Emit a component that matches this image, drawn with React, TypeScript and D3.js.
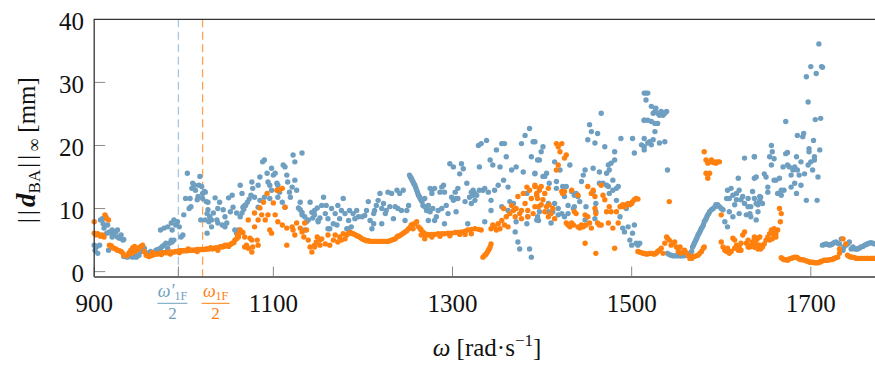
import React from "react";
import * as d3 from "d3";

// ---------- data (omega [rad/s], ||d_BA||_inf [mm]) ----------
const xTicks = [900, 1100, 1300, 1500, 1700];
const yTicks = [0, 10, 20, 30, 40];
const markerBlue = 994; // omega'_1F / 2
const markerOrange = 1021; // omega_1F / 2

const blueA: [number, number][] = [
  [900,4.2],[901,3.4],[903,4],[904,2.9],[906,4.2],[907,8.2],[909,8.4],[910,7.6],[911,6.9],[913,8.7],[915,7.4],[914,6.1],[916,3.4],[917,6.3],[919,6.1],[920,5.5],[922,5.8],[924,6.3],[926,5.5],[928,5.3],[930,5.8],[932,5],[933,5.1],[926,6.6],[920,6.6],
  [933,2.4],[935,2.4],[937,2.3],[939,2.5],[941,2.4],[943,2.3],[945,2.5],[947,2.3],[948,2.5],[950,2.6],[952,3.2],[954,3.4],[956,3.2],[958,2.9],[960,2.8],[961,3],[963,3.2],[965,2.8],[967,3],[969,3.4],[971,3.5],[973,3.3],[974,3.7],[976,4],[978,4.2],[980,4.5],[982,3.7],[984,4.5],[986,5],[987,4.7],[989,5],[956,3.7],[941,2.8],[945,2.8],
  [974,6.6],[978,6.9],[982,7.1],[986,7.7],[987,6.6],[989,8.2],[991,7.4],[993,7.9],[995,7.1],[997,5.5],[999,5.8],[1000,9],[1002,11.6],[1004,15.6],[1006,10],[1008,10.3],[1007,11.6],[1009,13.2],[1010,14],[1012,13.7],[1013,12.9],[1015,11.4],[1016,11.9],[1018,15.1],[1020,13.5],[1021,11.6],[1019,8.2],[1023,12.7],[1025,11.1],[1026,9.2],[1028,7.9],[1021,12.4],[1017,13.7]
];
const blueB: [number, number][] = [
  [1024,12.6],[1027,11],[1029,8.7],[1031,7.1],[1033,9.3],[1035,11.7],[1037,8.2],[1038,10],[1040,11],[1043,7.4],[1044,9.8],[1046,8.7],[1048,7.7],[1050,11.7],[1052,9.5],[1054,12.1],[1055,10.2],[1059,9.3],[1061,6.6],[1063,13.7],[1065,12.4],[1066,10.2],[1068,10.5],
  [1063,8.7],[1065,9.3],[1067,9.9],[1069,10.5],[1071,11],[1073,11.5],[1075,12.1],
  [1076,14.2],[1077,13.2],[1079,11.8],[1083,13.7],[1085,15],[1088,17.4],[1090,17.7],[1093,15.6],[1094,14.2],[1096,13.7],[1098,16.4],[1100,15.3],[1102,15.6],[1104,14],[1105,13.7],[1107,12.6],[1111,16.9],[1113,16.6],[1115,15.3],[1116,14.2],[1118,12.6],[1122,18.5],[1124,17.4],[1124,14.5],[1126,12.9],[1130,11],[1130,9.8],[1132,18.8],[1132,9],[1135,6.6],[1137,7.9],[1141,11],[1143,9.4],[1144,8.5],[1149,10.1],[1150,7.9],
  [1027,9.8],[1024,8.2],[1026,6.1],[1031,8.2],[1038,7.7],[1046,7.1],[1057,6.6],[1059,6.1],[1083,10.2],[1085,11.3],[1090,11.8],[1096,11.6],[1098,12.9],[1105,11.8],[1110,11],[1113,10.2],[1119,11.8],[1121,13.4],[1128,10.1],[1132,9.4],[1135,8.7],[1139,8.2],[1146,9],[1152,8.5]
];
const blueC: [number, number][] = [
  [1146,9.7],[1150,8.1],[1154,10.5],[1156,11.8],[1158,9.2],[1159,10.5],[1161,8.4],[1163,6.8],[1165,10],[1167,7.6],[1169,9.2],[1171,7.4],[1172,10.5],[1174,8.4],[1176,9.7],[1178,11.6],[1180,9.2],[1182,6.8],[1184,8.1],[1185,9.7],[1187,7.1],[1189,9.2],[1191,8.4],[1193,9.7],[1195,8.7],[1199,8.7],[1202,8.9],[1204,9.7],[1206,11.1],[1208,8.1],[1210,6.8],[1212,9.2],[1213,9.7],[1215,10.5],[1217,11.3],[1219,12.4],[1221,7.6],[1221,10],[1223,10.8],[1225,9.2],[1226,9.7],[1228,12.6],[1230,10.3],[1232,12.4],[1234,8.4],[1236,10.3],[1238,12.9],[1239,10],[1241,12.4],[1243,9.7],[1245,12.9],[1247,8.1],[1249,9.7],[1251,10.5],[1161,6.8],[1184,6.8],[1212,7.6],
  [1252,15.3],[1253,15],[1254,14.8],[1255,14.5],[1256,14.2],[1257,13.9],[1258,13.7],[1259,13.3],[1260,12.9],[1261,12.5],[1262,12.1],[1263,11.9],[1264,11.6],[1265,11.3],[1266,11.1],[1267,10.5],[1269,10.3],[1271,10],[1273,9.7],[1275,13.2]
];
const blueD: [number, number][] = [
  [1269,11.6],[1271,9.7],[1273,10.5],[1275,9.5],[1277,12.9],[1278,10],[1280,13.2],[1282,8.7],[1284,9.7],[1286,12.6],[1288,10],[1290,13.7],[1291,12.6],[1293,10.5],[1295,9.2],[1297,17.1],[1299,11.8],[1301,16.6],[1303,12.6],[1304,9.5],[1306,11.6],[1308,15.5],[1310,17.1],[1312,16.3],[1314,11.1],[1316,14],[1317,7.6],[1319,11.8],[1321,12.6],[1323,12.1],[1325,12.4],[1327,12.1],[1329,20],[1330,16.6],[1332,20.3],[1334,12.9],[1336,13.2],[1338,20.8],[1340,12.6],[1342,17.7],[1343,11.3],[1345,16.9],[1347,12.9],[1349,19.3],[1351,13.7],[1353,16.6],[1355,20.3],[1357,14.5],[1358,20.3],[1360,18.2],[1362,13.4],[1364,11.1],[1366,16.1],[1368,10.8],[1370,6.3],[1371,16.6],[1373,4.7],[1375,3.6],[1377,20.3],[1379,15.8],[1381,21.6],[1383,12.4],[1384,8.7],[1386,22.7],[1388,18.2],[1390,20.6],[1388,2.3],[1386,3.6],[1392,15.5],[1396,8.1],[1397,17.7],
  [1273,8.1],[1280,8.1],[1291,7.6],[1304,11.6],[1321,10.8],[1336,7.9],[1343,9.7],[1355,10.3],[1362,9.7],[1371,7.9],[1383,7.6],[1277,12.4],[1288,13.4],[1301,11.3],[1306,13.2],[1323,12.9],[1325,11.3],[1330,12.9]
];
const blueE: [number, number][] = [
  [1392,20.6],[1392,15.6],[1394,8.2],[1395,17.7],[1397,9.5],[1399,19],[1401,19.8],[1403,15.1],[1405,15.6],[1407,10.8],[1408,14],[1410,7.7],[1412,9.5],[1414,17.4],[1416,14.3],[1418,10],[1420,16.1],[1422,9.2],[1423,13.5],[1425,8.7],[1427,13.5],[1429,9.2],[1431,16.9],[1433,12.7],[1435,10],[1436,12.1],[1438,12.4],[1440,11.9],[1442,11.1],[1444,14.3],[1446,15.3],[1448,16.1],[1449,10.3],[1451,20.9],[1453,23.3],[1455,22.2],[1457,16.4],[1459,20.4],[1460,10.8],[1462,21.9],[1464,15.8],[1466,25.1],[1468,14],[1470,19.8],[1472,15.6],[1474,13.5],[1475,16.1],[1477,17.2],[1479,14.5],[1481,19],[1483,13.2],[1485,13.5],[1487,8.7],[1488,21.1],[1490,6.9],[1492,6.3],[1494,10],[1496,7.1],[1498,5],[1500,4.2],[1501,6.1],[1503,7.4],[1505,4.5],[1507,4.2],[1509,4.5],[1501,21.1],[1503,18.8],[1511,20.1],[1514,19.3],[1514,24],
  [1401,15.1],[1414,10.8],[1416,13.2],[1425,11.9],[1429,10.5],[1436,10.3],[1457,12.7],[1464,14],[1472,13.7],[1475,12.4],[1479,12.9],[1483,11.3],[1460,9.5],[1395,8.7],[1407,9.5],[1418,9],[1448,8.2],[1459,8.4],[1481,17.7],[1474,16.9]
];
const blueF: [number, number][] = [
  [1514,28.3],[1516,28.3],[1518,28.3],[1516,27.2],[1522,26.2],[1524,25.1],[1526,25.4],[1527,25.9],[1529,25.1],[1531,24.8],[1533,25.4],[1535,24.8],[1537,25.1],[1539,25.4],[1529,23.5],[1526,23.5],[1522,23.8],[1518,24],[1514,24],[1526,22.2],[1524,20.9],[1520,20.6],[1518,20.4],[1514,19.8],[1522,20.1],[1531,20.4],[1537,20.6],[1514,21.1],[1540,16.1],
  [1540,2.9],[1542,2.7],[1544,2.6],[1546,2.5],[1548,2.5],[1550,2.5],[1552,2.5],[1554,2.5],[1555,2.5],[1557,2.5],[1559,2.5],[1561,2.6],[1563,2.6],[1565,2.9],[1567,3.2],[1568,3.9],[1569,4.2],[1570,4.5],[1571,4.8],[1572,5.1],[1573,5.4],[1574,5.8],[1575,6],[1576,6.3],[1577,6.6],[1578,6.9],[1579,7.1],[1580,7.4],[1581,7.9],[1582,8.1],[1583,8.4],[1584,8.7],[1585,9],[1586,9.2],[1587,9.5],[1589,9.8],[1591,10],[1593,10.3],[1594,10.6],[1596,10.6],[1598,10.3],[1600,10],[1602,9.8],[1604,7.9],
  [1606,11.6],[1607,12.9],[1609,11.6],[1611,13.2],[1613,12.1],[1615,10.6],[1617,12.4],[1619,14.8],[1620,12.9],[1622,11.4],[1624,11.9],[1626,18],[1628,9],[1630,11.6],[1632,9.2],[1633,10.3],[1635,12.7],[1637,14.8],[1637,18.2],[1639,8.2],[1641,10.6],[1643,11.9],[1609,9.5],[1613,8.7],[1617,11.4],[1620,9.2],[1626,10.8],[1630,10.3],[1633,8.7],[1607,7.1]
];
const blueG: [number, number][] = [
  [1637,18.2],[1639,15],[1637,11.6],[1639,10.8],[1641,9.5],[1643,11.3],[1644,11.8],[1646,10.8],[1648,15.5],[1650,15],[1652,13.4],[1652,12.6],[1654,18.2],[1656,20],[1657,19],[1659,17.9],[1661,14.5],[1663,12.4],[1665,14.8],[1667,12.1],[1669,16.6],[1670,12.9],[1672,23.8],[1672,18.7],[1674,18.9],[1674,16.9],[1676,16.6],[1678,15.3],[1680,16.1],[1682,16.6],[1684,12.4],[1684,18.2],[1685,21.6],[1687,15.3],[1689,13.7],[1691,21.4],[1692,21.9],[1693,15.5],[1695,11.3],[1695,30.9],[1697,26.9],[1698,19.5],[1698,19],[1700,32.5],[1702,16.1],[1703,20.8],[1704,18.2],[1705,24.1],[1706,31.4],[1707,11.3],[1708,15],[1709,36.1],[1710,19.3],[1711,24.3],[1712,32.5],[1713,32.4],[1704,17.7],[1700,17.4],[1697,16.9],[1678,13.4],[1667,12.9],[1656,16.9],[1659,14.5],[1682,14],[1685,16.1],[1689,17.4],
  [1713,4.2],[1715,4.3],[1717,4.4],[1719,4.3],[1721,4.2],[1723,4.3],[1724,4.4],[1726,4.6],[1728,4.7],[1730,4.5],[1732,4.4],[1734,5.2],[1736,3.4],[1737,3.9],[1739,4.2],[1741,4.4],[1743,4.7],[1745,3.6],[1747,3.9],[1749,3.6],[1751,3.6],[1752,3.6],[1754,3.7],[1756,3.9],[1758,4],[1760,4.2],[1762,4.3],[1763,4.4],[1765,4.5],[1767,4.6],[1769,4.5],[1771,4.4],[1774,4.3]
];

const orangeA: [number, number][] = [
  [900,7.9],[900,6.1],[902,5.8],[904,6],[906,5.8],[907,5.6],[909,5.8],[911,5.5],[912,9],[914,8.4],[916,8.2],[917,4.2],[919,4.1],[920,3.8],[922,3.7],[924,3.6],[926,3.4],[928,3.3],[930,3.2],[932,2.9],[933,2.6],[935,2.5],[937,2.6],[939,3],[941,3.4],[943,3.8],[945,4],[942,2.9],[945,3.2],[948,3.4],[950,3.8],[952,4],[954,4.2],[956,3.2],[958,2.6],[960,2.5],[961,2.4],[963,2.5],[965,2.6],[967,2.7],[969,2.8],[971,2.8],[973,2.9],[974,2.9],[976,3],[978,3],[980,3],[982,3],[984,3.1],[986,3.1],[987,3.1],[989,3.1],[991,3.2],[993,3.2],[995,3.3],[997,3.3],[999,3.3],[1000,3.3],[1002,3.3],[1004,3.3],[1006,3.4],[1008,3.4],[1010,3.4],[1012,3.4],[1013,3.4],[1015,3.5],[1017,3.5],[1019,3.5],[1021,3.5],[1023,3.5],[1025,3.6],[1026,3.6],[1028,3.6],
  [965,3],[975,2.7],[985,2.8],[995,3],[1005,3.6],[1015,3.2],[1030,3.8],[1032,3.6],[1034,3.7]
];
const orangeB: [number, number][] = [
  [1035,3.7],[1037,3.8],[1038,3.4],[1040,3.9],[1042,4],[1043,3.9],[1045,4],[1046,4.2],[1048,4.2],[1050,4],[1052,4.3],[1054,4.5],[1056,4.6],[1057,5],[1059,5.2],[1060,5.8],[1061,5.5],[1062,6.1],[1063,6.6],[1064,6.3],[1066,6.2],
  [1068,5.5],[1070,4.2],[1072,8.2],[1074,5.3],[1076,3.1],[1077,3.9],[1079,7.1],[1079,9.3],[1082,5],[1083,4.2],[1083,8.2],[1085,10.1],[1087,9],[1089,11],[1091,8.2],[1093,12.4],[1094,9],[1096,6.6],[1098,6.1],[1100,10.9],[1102,9],[1104,12.9],[1105,12.9],[1107,13],[1110,13.2],[1105,7.9],[1110,7.4],[1113,10.2],[1115,6.9],[1115,4.2],[1121,7.1],[1122,6.6],[1124,5.8],[1126,7.7],[1130,6.9],[1132,6.3],[1134,5.5],[1135,7.7],[1137,6.6],[1139,5],[1141,3.9],[1143,3.1],[1146,4.2],[1149,5.5],[1152,5],[1076,5],[1068,3.9],[1072,3.7]
];
const orangeC: [number, number][] = [
  [1146,3.9],[1148,4.7],[1152,4.2],[1154,5.2],[1158,4.4],[1161,5.8],[1163,4.2],[1167,5],[1169,5.8],[1172,4.7],[1174,5.5],[1176,5],[1178,6],[1180,5.2],[1182,5.8],
  [1184,6.1],[1186,6.2],[1187,6.1],[1189,6],[1191,5.9],[1193,5.7],[1195,5.6],[1197,5.4],[1199,5.2],[1201,5.1],[1202,5],[1204,4.9],[1206,4.9],[1208,4.8],[1210,4.8],[1212,4.8],[1213,4.8],[1215,4.8],[1217,4.8],[1219,4.8],[1221,4.8],[1223,4.8],[1225,4.8],[1227,4.8],[1228,4.8],[1230,4.9],[1232,5],[1234,5.1],[1236,5.2],[1238,5.5],[1239,5.6],[1241,5.7],[1243,5.9],[1245,6.1],[1247,6.3],[1249,6.5],[1251,6.8],[1253,7.1],[1254,7.4],[1256,7.5],[1258,7.6],[1260,7.9],[1262,7.1],[1264,6.8],[1265,6.6],[1267,6.3],[1269,6],[1271,5.9],[1273,5.8],[1256,6.8],[1265,5.8]
];
const orangeD: [number, number][] = [
  [1269,5.8],[1273,5.9],[1277,5.9],[1280,5.9],[1284,6],[1288,6],[1291,6],[1295,6.1],[1299,6.1],[1303,6.2],[1306,6.2],[1310,6.3],[1314,6.4],[1317,6.6],[1321,6.7],[1325,6.8],[1329,6.7],[1332,6.6],[1269,5.2],[1277,5.5],[1314,5.9],[1321,6],[1286,5.6],[1297,5.7],[1308,5.9],
  [1334,2.3],[1336,2.6],[1337,2.7],[1338,2.9],[1339,3.1],[1340,3.4],[1341,3.6],[1342,3.9],[1343,4.4],
  [1345,7.4],[1343,6.8],[1347,7.1],[1349,6.6],[1351,7.6],[1353,6.8],[1355,8.1],[1357,10],[1358,7.4],[1360,8.7],[1362,7.1],[1364,9.2],[1366,10.5],[1368,9.7],[1370,8.7],[1371,10],[1373,11.9],[1375,9.2],[1377,9.7],[1379,12.4],[1381,10.8],[1383,13.4],[1384,9.7],[1386,12.9],[1388,11.6],[1390,9.2],[1392,13.7],[1394,12.4],[1396,10.3],[1397,13.2],[1392,10.3],[1384,8.7],[1377,8.4]
];
const orangeE: [number, number][] = [
  [1392,13.5],[1394,12.1],[1395,11.6],[1397,12.9],[1399,10.6],[1401,11.4],[1403,9.5],[1405,10.3],[1407,8.7],[1408,10.6],[1410,9.2],[1412,10],[1414,8.4],[1416,20.3],[1418,19.8],[1420,19],[1422,20.3],[1425,18],[1427,18.5],[1416,16.1],[1418,16.9],[1422,12.7],[1423,12.4],[1425,12.7],[1427,7.7],[1429,7.4],[1431,7.1],[1433,7.7],[1435,7.4],[1436,9.5],[1438,9.2],[1440,7.1],[1442,6.9],[1444,7.4],[1446,7.1],[1448,9],[1449,7.4],[1451,8.7],[1453,7.7],[1455,12.4],[1457,12.9],[1459,10],[1460,9.2],[1462,7.7],[1464,7.4],[1466,13.7],[1468,12.1],[1470,11.4],[1472,9.5],[1474,7.7],[1475,10.3],[1477,9.5],[1479,6.9],[1481,3.7],[1483,9.5],[1485,7.7],[1487,10.3],[1488,10.3],[1490,10.6],[1492,10.3],[1494,10.6],[1496,10.8],[1498,10.6],[1500,10.8],[1501,11.1],[1503,11.4],[1505,11.6],[1507,11.5],[1448,4.5],[1460,2.9],[1455,6.9],[1466,7.4],[1399,13.5],[1403,12.4],[1407,13.2],[1433,12.9],[1440,12.1],[1451,13.5],[1459,11.9],
  [1507,3.2],[1509,3.1],[1511,3],[1513,2.9]
];
const orangeF: [number, number][] = [
  [1514,2.9],[1516,2.8],[1518,2.8],[1520,2.9],[1522,2.9],[1524,2.8],[1526,2.8],[1528,3],[1529,3.2],[1531,3.4],[1533,3.7],[1535,2.9],[1537,4.5],[1539,5.5],[1540,5.3],[1542,5],[1544,4.2],[1546,4.5],[1548,4.7],[1550,3.9],[1552,3.7],[1554,3.9],[1552,3.2],[1555,2.9],[1557,3.1],[1559,3.4],[1561,3],[1563,2.6],[1565,2.1],[1567,2.1],[1568,2.4],[1570,2.4],[1572,2.5],[1574,2.6],[1576,2.9],[1578,3.2],[1580,3.7],[1581,3.9],[1542,11.1],
  [1581,19],[1583,17.7],[1585,17.2],[1587,17.4],[1589,17.7],[1591,17.3],[1593,17.4],[1594,17.2],[1596,17.4],[1598,17.4],[1583,15.6],[1585,15.3],[1587,15.6],[1585,14.8],[1600,9],
  [1600,4.7],[1602,3.9],[1604,3.4],[1606,3.2],[1607,3.7],[1609,2.9],[1611,3.2],[1613,5.3],[1615,5],[1617,4.2],[1619,3.4],[1620,3.9],[1622,4.5],[1624,5.8],[1626,6.3],[1628,4.5],[1630,5],[1632,3.9],[1633,4.2],[1635,4.7],[1637,5.5],[1639,5],[1641,5.3],[1643,5.5],[1615,3.7],[1622,3.4],[1630,3.9],[1637,3.9]
];
const orangeG: [number, number][] = [
  [1665,10],[1667,9.2],[1666,7.9],[1663,6.6],[1661,6],[1659,6.8],[1657,6.3],[1656,6.6],[1654,6],[1652,5.5],[1650,5],[1648,4.4],[1646,3.9],[1644,3.6],[1643,4.2],[1641,3.6],[1639,4.4],[1637,3.9],[1654,5],[1657,5.2],[1661,5.5],[1659,5.8],[1637,5.2],
  [1667,2.2],[1669,2],[1670,1.9],[1672,1.9],[1674,1.8],[1676,2],[1678,2.1],[1680,2.2],[1682,2.3],[1684,2.3],[1685,2.2],[1687,2],[1689,1.9],[1691,1.9],[1693,1.8],[1695,1.7],[1697,1.6],[1699,1.5],[1700,1.5],[1702,1.5],[1704,1.4],[1706,1.4],[1708,1.4],[1710,1.5],[1711,1.6],[1713,1.7],[1715,1.8],[1717,1.8],[1719,1.8],[1721,1.9],[1723,1.9],[1725,2],[1726,2.1],[1728,2.2],[1730,2.3],[1732,2.9],[1732,3.6],[1736,5.2],[1739,4.4],[1741,2.6],[1743,2.4],[1745,2.3],[1747,2.3],[1749,2.2],[1751,2.1],[1752,2.1],[1754,2.1],[1756,2.1],[1758,2.1],[1760,2.1],[1762,2.1],[1763,2.1],[1765,2.1],[1767,2.1],[1769,2.1],[1771,2.1],[1774,2.1]
];

const bluePoints = [...blueA, ...blueB, ...blueC, ...blueD, ...blueE, ...blueF, ...blueG];
const orangePoints = [...orangeA, ...orangeB, ...orangeC, ...orangeD, ...orangeE, ...orangeF, ...orangeG];

const BLUE = "#6e9ec0";
const ORANGE = "#ff800e";
const FONT = "'Liberation Serif', 'Times New Roman', serif";

export default function App() {
  const width = 875;
  const height = 366;
  const x = d3.scaleLinear().domain([900, 1775]).range([94.2, 878]);
  const y = d3.scaleLinear().domain([-0.85, 40]).range([277, 19.3]);
  const [x0, x1] = x.range();
  const [yb, yt] = y.range();

  return (
    <svg width={width} height={height} style={{ position: "absolute", left: 0, top: 0, background: "#fff" }} fontFamily={FONT}>
      <rect x={0} y={0} width={width} height={height} fill="#fff" />
      {/* dashed markers */}
      <line x1={x(markerBlue)} x2={x(markerBlue)} y1={yt} y2={yb} stroke="#a9c7dc" strokeWidth={1.3} strokeDasharray="8,4.5" />
      <line x1={x(markerOrange)} x2={x(markerOrange)} y1={yt} y2={yb} stroke="#ffa24f" strokeWidth={1.3} strokeDasharray="8,4.5" />
      {/* points */}
      <g fill={BLUE}>
        {bluePoints.map((d, i) => (
          <circle key={"b" + i} cx={x(d[0])} cy={y(d[1])} r={2.7} />
        ))}
      </g>
      <g fill={ORANGE}>
        {orangePoints.map((d, i) => (
          <circle key={"o" + i} cx={x(d[0])} cy={y(d[1])} r={2.7} />
        ))}
      </g>
      {/* ticks */}
      {[...xTicks, markerBlue].map((t) => (
        <line key={"xt" + t} x1={x(t)} x2={x(t)} y1={yb} y2={yb - 10.5} stroke="#8a8a8a" strokeWidth={1} />
      ))}
      {yTicks.slice(0, 4).map((t) => (
        <line key={"yt" + t} x1={x0} x2={x0 + 11} y1={y(t)} y2={y(t)} stroke="#8a8a8a" strokeWidth={1} />
      ))}
      {/* frame */}
      <path d={`M${x1},${yt}H${x0}V${yb}`} fill="none" stroke="#333" strokeWidth={1.3} />
      <line x1={x0} x2={x1} y1={yb} y2={yb} stroke="#6b6b6b" strokeWidth={2} />
      {/* tick labels */}
      {xTicks.map((t) => (
        <text key={"xl" + t} x={x(t)} y={312} textAnchor="middle" fontSize={25} fill="#111">
          {t}
        </text>
      ))}
      {yTicks.map((t) => (
        <text key={"yl" + t} x={84} y={y(t) + 10.5} textAnchor="end" fontSize={25} fill="#111">
          {t}
        </text>
      ))}
      {/* marker labels */}
      <g fill={BLUE}>
        <text x={x(markerBlue) - 6} y={297} textAnchor="middle" fontSize={18}>
          <tspan fontStyle="italic">ω′</tspan>
          <tspan dy={3} fontSize={12}>1F</tspan>
        </text>
        <line x1={x(markerBlue) - 21} x2={x(markerBlue) + 9} y1={303.3} y2={303.3} stroke={BLUE} strokeWidth={1} />
        <text x={x(markerBlue) - 6} y={319} textAnchor="middle" fontSize={17}>2</text>
      </g>
      <g fill={ORANGE}>
        <text x={x(markerOrange) + 13} y={297} textAnchor="middle" fontSize={18}>
          <tspan fontStyle="italic">ω</tspan>
          <tspan dy={3} fontSize={12}>1F</tspan>
        </text>
        <line x1={x(markerOrange) - 1} x2={x(markerOrange) + 27} y1={303.3} y2={303.3} stroke={ORANGE} strokeWidth={1} />
        <text x={x(markerOrange) + 13} y={319} textAnchor="middle" fontSize={17}>2</text>
      </g>
      {/* axis labels */}
      <text x={487} y={356} textAnchor="middle" fontSize={25} fill="#111">
        <tspan fontStyle="italic">ω</tspan>
        <tspan> [rad·s</tspan>
        <tspan dy={-10} fontSize={17}>−1</tspan>
        <tspan dy={10}>]</tspan>
      </text>
      <text transform="translate(35,150) rotate(-90)" textAnchor="middle" fontSize={25} fill="#111">
        <tspan letterSpacing={3}>||</tspan>
        <tspan fontWeight="bold" fontStyle="italic" fontSize={27}>d</tspan>
        <tspan dy={5} fontSize={17}>BA</tspan>
        <tspan dy={-5} dx={2} letterSpacing={3}>||</tspan>
        <tspan dy={5} fontSize={18}>∞</tspan>
        <tspan dy={-5}> [mm]</tspan>
      </text>
    </svg>
  );
}
